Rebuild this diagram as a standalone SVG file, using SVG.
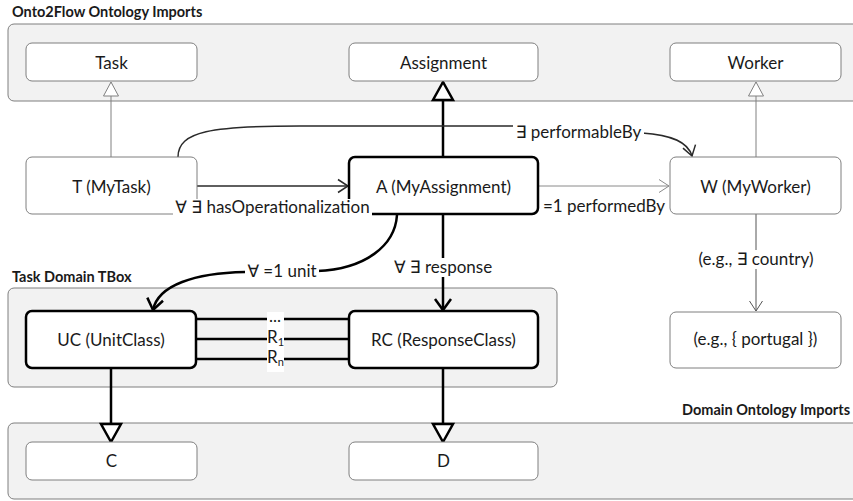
<svg xmlns="http://www.w3.org/2000/svg" width="853" height="501" viewBox="0 0 853 501">
  <style>
    text { font-family: Lato, "Liberation Sans", "DejaVu Sans", sans-serif; fill: #1a1a1a; }
    .lbl { font-size: 17px; text-anchor: middle; }
    .title { font-size: 14.5px; font-weight: bold; }
    .container { fill: #f2f2f2; stroke: #7f7f7f; stroke-width: 1; }
    .node { fill: #ffffff; stroke: #7f7f7f; stroke-width: 1; }
    .node-strong { fill: #ffffff; stroke: #000000; stroke-width: 2.5; }
    .thin { fill: none; stroke: #808080; stroke-width: 1; }
    .dark { fill: none; stroke: #2a2a2a; stroke-width: 1.5; }
    .grey { fill: none; stroke: #8a8a8a; stroke-width: 1; }
    .thick { fill: none; stroke: #000000; stroke-width: 2.5; }
    .bg { fill: #ffffff; stroke: none; }
  </style>
  <defs>
    <marker id="triThin" markerUnits="userSpaceOnUse" markerWidth="20" markerHeight="20" refX="0" refY="0" orient="auto" style="overflow:visible">
      <path d="M0,0 L-14,-7.5 L-14,7.5 Z" fill="#ffffff" stroke="#808080" stroke-width="1"/>
    </marker>
    <marker id="triThick" markerUnits="userSpaceOnUse" markerWidth="24" markerHeight="24" refX="0" refY="0" orient="auto" style="overflow:visible">
      <path d="M0,0 L-18,-10 L-18,10 Z" fill="#ffffff" stroke="#000000" stroke-width="2.5" stroke-linejoin="miter"/>
    </marker>
    <marker id="openDark" markerUnits="userSpaceOnUse" markerWidth="20" markerHeight="20" refX="0" refY="0" orient="auto" style="overflow:visible">
      <path d="M-10,-6.5 L0,0 L-10,6.5" fill="none" stroke="#2a2a2a" stroke-width="1.5"/>
    </marker>
    <marker id="openGrey" markerUnits="userSpaceOnUse" markerWidth="20" markerHeight="20" refX="0" refY="0" orient="auto" style="overflow:visible">
      <path d="M-10,-6.5 L0,0 L-10,6.5" fill="none" stroke="#8a8a8a" stroke-width="1"/>
    </marker>
    <marker id="openThin" markerUnits="userSpaceOnUse" markerWidth="20" markerHeight="20" refX="0" refY="0" orient="auto" style="overflow:visible">
      <path d="M-10,-6.5 L0,0 L-10,6.5" fill="none" stroke="#555555" stroke-width="1"/>
    </marker>
    <marker id="openThick" markerUnits="userSpaceOnUse" markerWidth="24" markerHeight="24" refX="0" refY="0" orient="auto" style="overflow:visible">
      <path d="M-11,-8 L0,0 L-11,8" fill="none" stroke="#000000" stroke-width="2.5"/>
    </marker>
  </defs>

  <!-- package containers -->
  <g id="onto2flow-imports">
    <rect class="container" x="8" y="24" width="870" height="77" rx="6"/>
    <text class="title" x="12" y="17">Onto2Flow Ontology Imports</text>
  </g>
  <g id="task-domain-tbox">
    <rect class="container" x="8" y="288" width="549" height="99" rx="6"/>
    <text class="title" x="12" y="282">Task Domain TBox</text>
  </g>
  <g id="domain-ontology-imports">
    <rect class="container" x="8" y="423" width="870" height="76" rx="6"/>
    <text class="title" x="850" y="415" text-anchor="end">Domain Ontology Imports</text>
  </g>

  <!-- connectors -->
  <g id="connectors">
    <line class="thin" x1="111" y1="157" x2="111" y2="82" marker-end="url(#triThin)"/>
    <line class="thick" x1="443" y1="157" x2="443" y2="82" marker-end="url(#triThick)"/>
    <line class="thin" x1="756" y1="157" x2="756" y2="82" marker-end="url(#triThin)"/>
    <line class="dark" x1="197" y1="186" x2="348" y2="186" marker-end="url(#openDark)"/>
    <line class="grey" x1="538" y1="186" x2="669" y2="186" marker-end="url(#openGrey)"/>
    <path class="dark" d="M178,157 C178,131 212,126 300,126 L520,126 C565,126 600,131 642,133 C672,135 688,142 692,156" marker-end="url(#openDark)"/>
    <line x1="756" y1="214" x2="756" y2="311" fill="none" stroke="#555555" stroke-width="1" marker-end="url(#openThin)"/>
    <path class="thick" d="M397,215 C395,246 365,269 317,271 L245,272 C195,273 158,285 153,310" marker-end="url(#openThick)"/>
    <line class="thick" x1="443" y1="214" x2="443" y2="310" marker-end="url(#openThick)"/>
    <line class="thick" x1="196" y1="319" x2="349" y2="319"/>
    <line class="thick" x1="196" y1="339" x2="349" y2="339"/>
    <line class="thick" x1="196" y1="359" x2="349" y2="359"/>
    <line class="thick" x1="111" y1="368" x2="111" y2="442" marker-end="url(#triThick)"/>
    <line class="thick" x1="443" y1="368" x2="443" y2="442" marker-end="url(#triThick)"/>
  </g>

  <!-- classes -->
  <g id="task">
    <rect class="node" x="26" y="43" width="171" height="38" rx="6"/>
    <text class="lbl" x="111.5" y="69">Task</text>
  </g>
  <g id="assignment">
    <rect class="node" x="349" y="43" width="189" height="38" rx="6"/>
    <text class="lbl" x="443.5" y="69">Assignment</text>
  </g>
  <g id="worker">
    <rect class="node" x="670" y="43" width="171" height="38" rx="6"/>
    <text class="lbl" x="755.5" y="69">Worker</text>
  </g>
  <g id="my-task">
    <rect class="node" x="26" y="157" width="171" height="57" rx="6"/>
    <text class="lbl" x="111.5" y="193">T (MyTask)</text>
  </g>
  <g id="my-assignment">
    <rect class="node-strong" x="349" y="157" width="189" height="57" rx="6"/>
    <text class="lbl" x="443.5" y="193">A (MyAssignment)</text>
  </g>
  <g id="my-worker">
    <rect class="node" x="670" y="157" width="171" height="57" rx="6"/>
    <text class="lbl" x="755.5" y="193">W (MyWorker)</text>
  </g>
  <g id="unit-class">
    <rect class="node-strong" x="26" y="311" width="170" height="57" rx="6"/>
    <text class="lbl" x="111" y="346">UC (UnitClass)</text>
  </g>
  <g id="response-class">
    <rect class="node-strong" x="349" y="311" width="189" height="57" rx="6"/>
    <text class="lbl" x="443.5" y="346">RC (ResponseClass)</text>
  </g>
  <g id="portugal">
    <rect class="node" x="670" y="312" width="171" height="56" rx="6"/>
    <text class="lbl" x="755.5" y="345">(e.g., { portugal })</text>
  </g>
  <g id="c">
    <rect class="node" x="26" y="442" width="171" height="38" rx="6"/>
    <text class="lbl" x="111.5" y="467">C</text>
  </g>
  <g id="d">
    <rect class="node" x="349" y="442" width="189" height="38" rx="6"/>
    <text class="lbl" x="443.5" y="467">D</text>
  </g>

  <!-- connector labels -->
  <g id="connector-labels">
    <rect class="bg" x="173" y="199" width="199" height="19"/>
    <text class="lbl" x="272.5" y="213">∀ ∃ hasOperationalization</text>
    <rect class="bg" x="541" y="199" width="127" height="19"/>
    <text class="lbl" x="604" y="212">=1 performedBy</text>
    <rect class="bg" x="513" y="123" width="131" height="20"/>
    <text class="lbl" x="578.5" y="138">∃ performableBy</text>
    <rect class="bg" x="703" y="250" width="106" height="19"/>
    <text class="lbl" x="756" y="265">(e.g., ∃ country)</text>
    <rect class="bg" x="245" y="263" width="74" height="19"/>
    <text class="lbl" x="282" y="277">∀ =1 unit</text>
    <rect class="bg" x="391" y="258" width="104" height="19"/>
    <text class="lbl" x="443" y="273">∀ ∃ response</text>
    <rect class="bg" x="267" y="312" width="17" height="60"/>
    <text class="lbl" x="275" y="322" font-size="16">...</text>
    <text class="lbl" x="275.5" y="343" font-size="16">R<tspan font-size="11" dy="3">1</tspan></text>
    <text class="lbl" x="275.5" y="363" font-size="16">R<tspan font-size="11" dy="3">n</tspan></text>
  </g>
</svg>
